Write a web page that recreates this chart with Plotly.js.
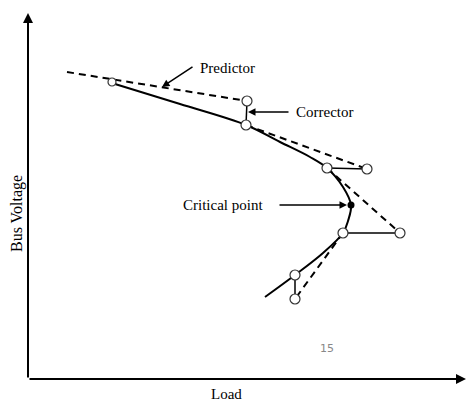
<!DOCTYPE html>
<html>
<head>
<meta charset="utf-8">
<script src="https://cdn.plot.ly/plotly-3.0.1.min.js"></script>
<style>html,body{margin:0;padding:0;background:#fff;}#chart{width:467px;height:402px;}</style>
</head>
<body>
<div id="chart"></div>
<script>
// Schematic P-V curve (arbitrary units: load, bus voltage)
const curveLoad    = [86, 151, 217, 251, 281, 298, 314, 322, 319, 314, 294, 266, 236];
const curveVoltage = [295, 275, 254, 237, 222, 211, 192, 174, 158, 146, 126, 104, 82];

// predictor steps (dashed tangents)
const predLoad    = [38, 218, null, 217, 338, null, 298, 371, null, 314, 266];
const predVoltage = [307, 278, null, 254, 210, null, 211, 146, null, 146, 80];

// corrector steps (solid)
const corrLoad    = [218, 217, null, 298, 338, null, 314, 371, null, 266, 266];
const corrVoltage = [278, 254, null, 211, 210, null, 146, 146, null, 104, 80];

// solution / predicted points
const pointLoad    = [218, 217, 298, 338, 314, 371, 266, 266];
const pointVoltage = [278, 254, 211, 210, 146, 146, 104, 80];
const startLoad = [83];
const startVoltage = [297];

const criticalLoad = [322];
const criticalVoltage = [174];

const labels = ["Predictor", "Corrector", "Critical point"];
const axisTitles = ["Load", "Bus Voltage"];
const pageNumber = "15";

const serifFamily = "Liberation Serif";
const labelFont = {family: serifFamily, size: 15, color: "#000"};
const titleFont = {family: serifFamily, size: 16, color: "#000"};

const traces = [
  {x: curveLoad, y: curveVoltage, mode: "lines", line: {color: "#000", width: 2, shape: "spline", smoothing: 1}, hoverinfo: "skip"},
  {x: predLoad, y: predVoltage, mode: "lines", line: {color: "#000", width: 2, dash: "7px,5px"}, connectgaps: false, hoverinfo: "skip"},
  {x: corrLoad, y: corrVoltage, mode: "lines", line: {color: "#000", width: 1.5}, connectgaps: false, hoverinfo: "skip"},
  {x: pointLoad, y: pointVoltage, mode: "markers", marker: {size: 10, color: "#fff", line: {color: "#333", width: 1.2}}, hoverinfo: "skip"},
  {x: startLoad, y: startVoltage, mode: "markers", marker: {size: 8, color: "#fff", line: {color: "#333", width: 1.2}}, hoverinfo: "skip"},
  {x: criticalLoad, y: criticalVoltage, mode: "markers", marker: {size: 7, color: "#000"}, hoverinfo: "skip"}
];

function arrow(hx, hy, tx, ty, w) {
  return {x: hx, y: hy, ax: tx, ay: ty, xref: "x", yref: "y", axref: "x", ayref: "y",
          text: "", showarrow: true, arrowhead: 2, arrowsize: 1, arrowwidth: w, arrowcolor: "#000"};
}

const annotations = [
  // axes
  arrow(-1, 366, -1, 0, 2),
  arrow(437, 0, -1, 0, 2),
  // label arrows
  arrow(133, 292, 165, 313, 1.5),
  arrow(219, 267, 261, 267, 1.5),
  arrow(318, 174, 249, 174, 1.5),
  // texts
  {x: 169, y: 311, xref: "x", yref: "y", text: labels[0], showarrow: false, xanchor: "left", yanchor: "middle", font: labelFont},
  {x: 265, y: 267, xref: "x", yref: "y", text: labels[1], showarrow: false, xanchor: "left", yanchor: "middle", font: labelFont},
  {x: 236, y: 174, xref: "x", yref: "y", text: labels[2], showarrow: false, xanchor: "right", yanchor: "middle", font: labelFont},
  {x: 197, y: -15, xref: "x", yref: "y", text: axisTitles[0], showarrow: false, xanchor: "center", yanchor: "middle", font: {family: serifFamily, size: 15, color: "#000"}},
  {x: -12, y: 165, xref: "x", yref: "y", text: axisTitles[1], showarrow: false, textangle: -90, xanchor: "center", yanchor: "middle", font: titleFont},
  {x: 298, y: 31, xref: "x", yref: "y", text: pageNumber, showarrow: false, xanchor: "center", yanchor: "middle", font: {family: "DejaVu Sans", size: 11, color: "#888"}}
];

const layout = {
  width: 467, height: 402,
  margin: {l: 0, r: 0, t: 0, b: 0},
  paper_bgcolor: "#fff", plot_bgcolor: "#fff",
  showlegend: false,
  xaxis: {range: [-29, 438], visible: false, fixedrange: true},
  yaxis: {range: [-23, 379], visible: false, fixedrange: true},
  annotations: annotations
};

Plotly.newPlot("chart", traces, layout, {staticPlot: true, displayModeBar: false});
</script>
</body>
</html>
